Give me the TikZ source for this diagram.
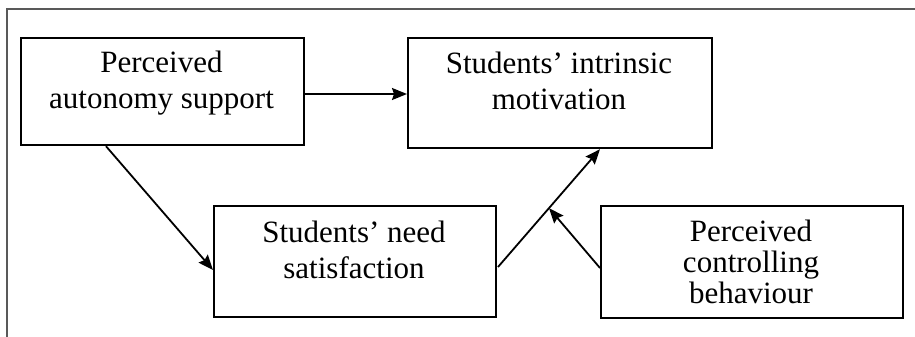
\documentclass[tikz,border=0pt]{standalone}
\usepackage{fontspec}
\setmainfont{Liberation Serif}
\usetikzlibrary{arrows.meta,calc}
\begin{document}
\begin{tikzpicture}[x=1pt,y=1pt,
  boxnode/.style={draw=black,line width=2.2pt,rectangle,inner sep=0pt,anchor=north west},
  txt/.style={inner sep=0pt,anchor=north,align=center,font=\fontsize{31}{36}\selectfont},
  txtthree/.style={txt,font=\fontsize{31}{31}\selectfont},
  conn/.style={line width=1.8pt,-{Stealth[length=15pt,width=12pt,inset=2pt]}}]
\useasboundingbox (0,0) rectangle (915,-337);
% outer frame (cropped)
\draw[line width=1.5pt,black!65] (915,-9) -- (7,-9) -- (7,-337);
% boxes
\node[boxnode,minimum width=283pt,minimum height=107pt] (A) at (20,-37) {};
\node[boxnode,minimum width=304pt,minimum height=110pt] (B) at (407,-37) {};
\node[boxnode,minimum width=282pt,minimum height=111pt] (C) at (213,-205) {};
\node[boxnode,minimum width=302pt,minimum height=112pt] (D) at (600,-205) {};
% texts
\node[txt] (At) at (161.5,-50) {\rule{0pt}{22pt}Perceived\\autonomy support};
\node[txt] (Bt) at (559,-51) {\rule{0pt}{22pt}Students’ intrinsic\\motivation};
\node[txt] (Ct) at (354,-220) {\rule{0pt}{22pt}Students’ need\\satisfaction};
\node[txtthree] (Dt) at (751,-219) {\rule{0pt}{22pt}Perceived\\controlling\\behaviour};
% helper coordinates
\coordinate (yab) at (0,-94);
\coordinate (xa) at (106,0);
\coordinate (yc) at (0,-270);
\coordinate (cs) at (498,-267);
\coordinate (xb) at (600,0);
\coordinate (yd) at (0,-268);
\coordinate (ce) at (B.south -| xb);
\coordinate (mid) at ($(cs)!0.5!(ce)$);
% connectors
\draw[conn] (A.east |- yab) -- (B.west |- yab);
\draw[conn] (A.south -| xa) -- (C.west |- yc);
\draw[conn] (cs) -- (ce);
\draw[conn] (D.west |- yd) -- (mid);
\end{tikzpicture}
\end{document}
